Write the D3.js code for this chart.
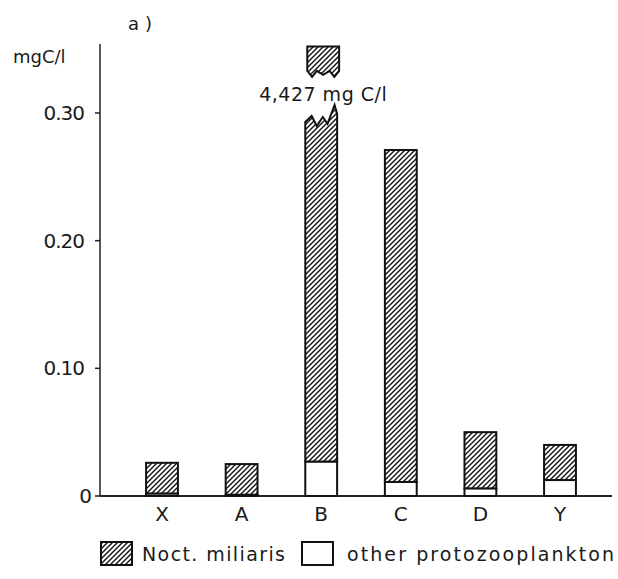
<!DOCTYPE html>
<html>
<head>
<meta charset="utf-8">
<script src="https://cdn.jsdelivr.net/npm/d3@7/dist/d3.min.js"></script>
<style>
  html, body { margin: 0; padding: 0; background: #fff; }
  text { font-family: "DejaVu Sans", sans-serif; fill: #1a1a1a; }
</style>
</head>
<body>
<svg id="chart" width="618" height="579"></svg>
<script>
// ---- data ----
const categories = ["X", "A", "B", "C", "D", "Y"];
const noctValues = [0.024, 0.024, 4.400, 0.260, 0.044, 0.0275];
const otherValues = [0.002, 0.001, 0.027, 0.011, 0.006, 0.0125];
const seriesNames = ["Noct. miliaris", "other protozooplankton"];
const yTickValues = [0, 0.10, 0.20, 0.30];
const yTickLabels = ["0", "0.10", "0.20", "0.30"];
const breakLabel = "4,427 mg C/l";
const breakLow = 0.293;      // where the broken bar is cut
const breakUpTop = 0.352;    // top of the detached bar piece
const breakUpBottom = 0.333; // bottom of the detached bar piece
const yUnit = "mgC/l";
const panelLabel = "a)";

// ---- layout ----
const svg = d3.select("#chart");
const x = d3.scaleBand().domain(categories).range([122.2, 599.8]).paddingInner(0.6).paddingOuter(0.3);
const y = d3.scaleLinear().domain([0, 0.30]).range([496, 113]);

const defs = svg.append("defs");
const pat = defs.append("pattern").attr("id", "hatch").attr("patternUnits", "userSpaceOnUse")
  .attr("width", 5).attr("height", 5);
pat.append("rect").attr("width", 5).attr("height", 5).attr("fill", "#fff");
pat.append("path").attr("d", "M-1,1 l2,-2 M0,5 l5,-5 M4,6 l2,-2")
  .attr("stroke", "#111").attr("stroke-width", 1.4);

// axes lines
svg.append("line").attr("x1", 100).attr("x2", 100).attr("y1", 44).attr("y2", y(0))
  .attr("stroke", "#222").attr("stroke-width", 1.5);
svg.append("line").attr("x1", 100).attr("x2", 612).attr("y1", y(0)).attr("y2", y(0))
  .attr("stroke", "#222").attr("stroke-width", 1.8);

// y ticks
const yt = svg.append("g");
yTickValues.forEach((v, i) => {
  yt.append("line").attr("x1", 95).attr("x2", 100).attr("y1", y(v)).attr("y2", y(v))
    .attr("stroke", "#222").attr("stroke-width", 1.5);
  yt.append("text").attr("x", v === 0 ? 91 : 84).attr("y", y(v) + 7)
    .attr("text-anchor", "end").attr("font-size", 20).attr("letter-spacing", -1)
    .text(yTickLabels[i]);
});

svg.append("text").attr("x", 13).attr("y", 63).attr("font-size", 18).text(yUnit);
svg.append("text").attr("x", 128).attr("y", 30).attr("font-size", 18).attr("letter-spacing", 6).text(panelLabel);

// x labels
categories.forEach(c => {
  svg.append("text").attr("x", x(c) + x.bandwidth() / 2).attr("y", 521)
    .attr("text-anchor", "middle").attr("font-size", 20).text(c);
});

// bars
const bw = x.bandwidth();
categories.forEach((c, i) => {
  const x0 = x(c), x1 = x0 + bw;
  const total = noctValues[i] + otherValues[i];
  // other protozooplankton (white)
  svg.append("rect").attr("x", x0).attr("y", y(otherValues[i]))
    .attr("width", bw).attr("height", y(0) - y(otherValues[i]))
    .attr("fill", "#fff").attr("stroke", "#111").attr("stroke-width", 2);
  if (total <= 0.30) {
    svg.append("rect").attr("x", x0).attr("y", y(total))
      .attr("width", bw).attr("height", y(otherValues[i]) - y(total))
      .attr("fill", "url(#hatch)").attr("stroke", "#111").attr("stroke-width", 2);
  } else {
    // broken bar: lower piece with jagged top
    const yb = y(otherValues[i]), yt0 = y(breakLow);
    const prof = [[0, 0], [0.2, -6], [0.36, 4], [0.55, -5], [0.7, 2], [0.92, -17], [1, -8]];
    let d = `M${x0},${yb}`;
    prof.forEach(([f, o]) => { d += ` L${x0 + f * bw},${yt0 + o}`; });
    d += ` L${x1},${yb} Z`;
    svg.append("path").attr("d", d).attr("fill", "url(#hatch)").attr("stroke", "#111")
      .attr("stroke-width", 2).attr("stroke-linejoin", "miter");
    // detached upper piece
    const ut = y(breakUpTop), ub = y(breakUpBottom);
    const prof2 = [[1, 0], [0.85, 6], [0.7, 0], [0.5, 4], [0.3, 0], [0.15, 6], [0, 0]];
    let d2 = `M${x0 + 2},${ut} L${x1 + 2},${ut}`;
    prof2.forEach(([f, o]) => { d2 += ` L${x0 + 2 + f * bw},${ub + o}`; });
    d2 += " Z";
    svg.append("path").attr("d", d2).attr("fill", "url(#hatch)").attr("stroke", "#111")
      .attr("stroke-width", 2);
    svg.append("text").attr("x", x0 + bw / 2 + 2).attr("y", 101)
      .attr("text-anchor", "middle").attr("font-size", 19).attr("letter-spacing", 0.5)
      .text(breakLabel);
  }
});

// legend
const lg = svg.append("g");
lg.append("rect").attr("x", 101).attr("y", 542).attr("width", 31).attr("height", 23)
  .attr("fill", "url(#hatch)").attr("stroke", "#111").attr("stroke-width", 2);
lg.append("text").attr("x", 142).attr("y", 561).attr("font-size", 19)
  .attr("textLength", 143).attr("lengthAdjust", "spacing").text(seriesNames[0]);
lg.append("rect").attr("x", 302).attr("y", 542).attr("width", 31).attr("height", 23)
  .attr("fill", "#fff").attr("stroke", "#111").attr("stroke-width", 2);
lg.append("text").attr("x", 347).attr("y", 561).attr("font-size", 19)
  .attr("textLength", 267).attr("lengthAdjust", "spacing").text(seriesNames[1]);
</script>
</body>
</html>
